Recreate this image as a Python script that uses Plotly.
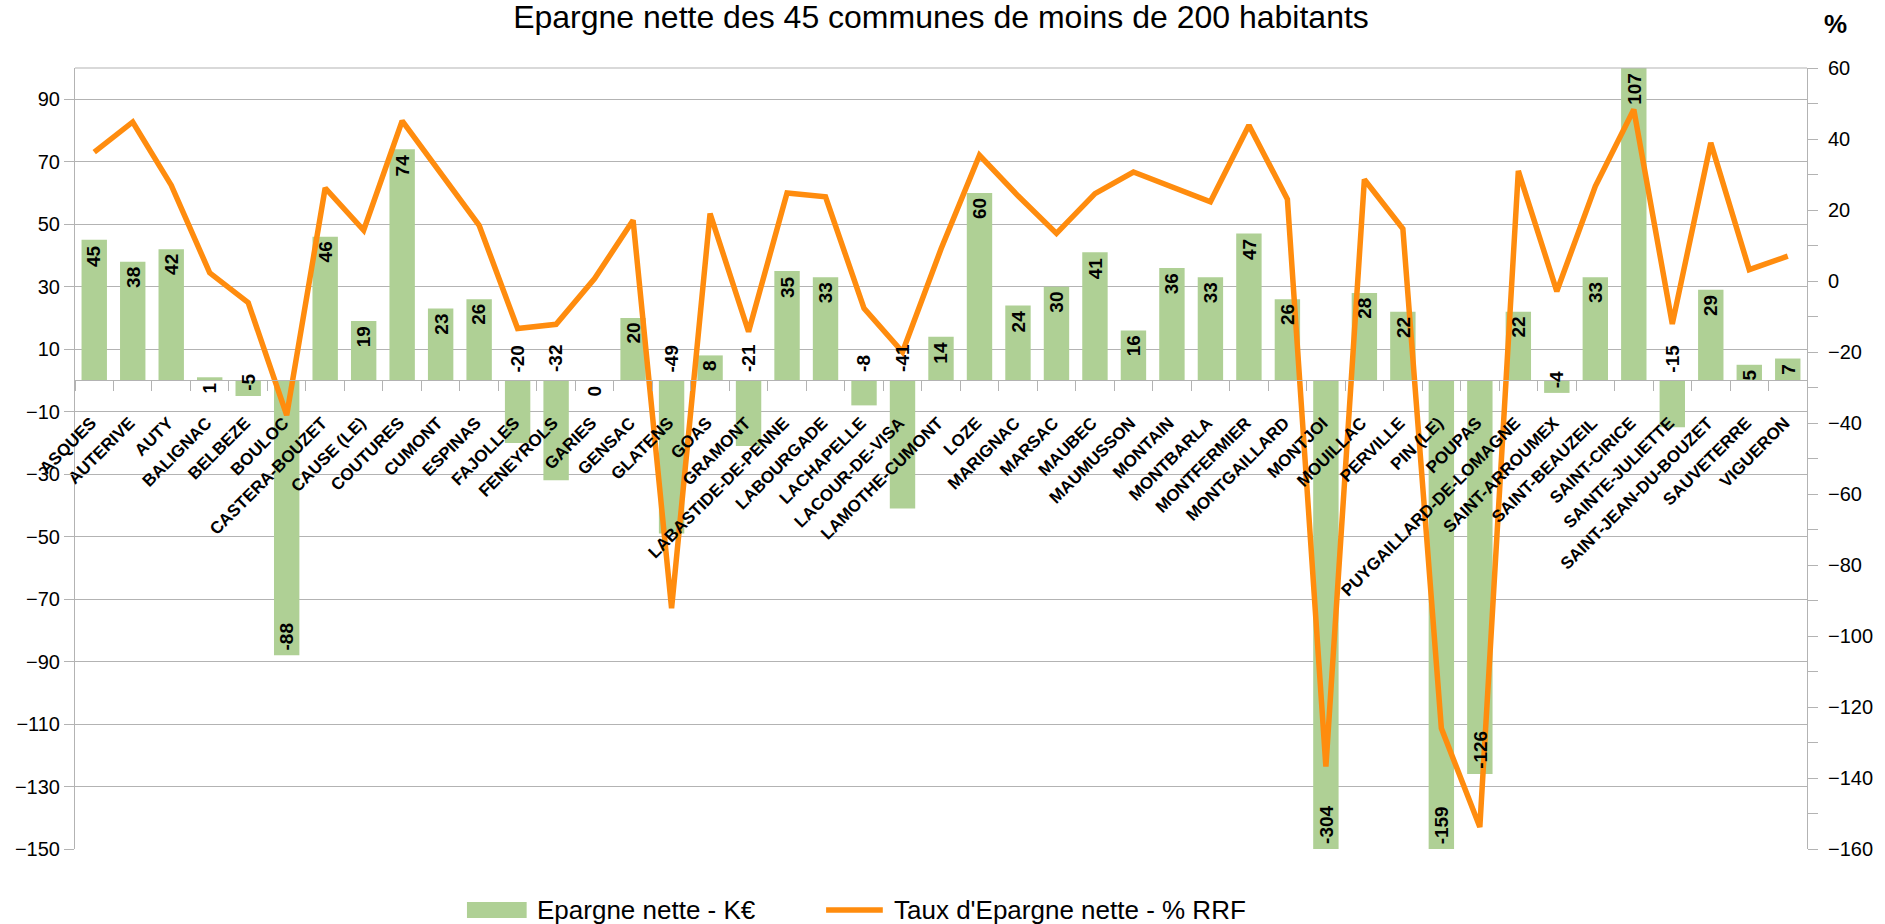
import plotly.graph_objects as go

communes = ["ASQUES", "AUTERIVE", "AUTY", "BALIGNAC", "BELBEZE", "BOULOC", "CASTERA-BOUZET",
            "CAUSE (LE)", "COUTURES", "CUMONT", "ESPINAS", "FAJOLLES", "FENEYROLS", "GARIES",
            "GENSAC", "GLATENS", "GOAS", "GRAMONT", "LABASTIDE-DE-PENNE", "LABOURGADE",
            "LACHAPELLE", "LACOUR-DE-VISA", "LAMOTHE-CUMONT", "LOZE", "MARIGNAC", "MARSAC",
            "MAUBEC", "MAUMUSSON", "MONTAIN", "MONTBARLA", "MONTFERMIER", "MONTGAILLARD",
            "MONTJOI", "MOUILLAC", "PERVILLE", "PIN (LE)", "POUPAS", "PUYGAILLARD-DE-LOMAGNE",
            "SAINT-ARROUMEX", "SAINT-BEAUZEIL", "SAINT-CIRICE", "SAINTE-JULIETTE",
            "SAINT-JEAN-DU-BOUZET", "SAUVETERRE", "VIGUERON"]

epargne_nette_keur = [45, 38, 42, 1, -5, -88, 46, 19, 74, 23, 26, -20, -32, 0, 20, -49, 8, -21,
                      35, 33, -8, -41, 14, 60, 24, 30, 41, 16, 36, 33, 47, 26, -304, 28, 22,
                      -159, -126, 22, -4, 33, 107, -15, 29, 5, 7]

taux_epargne_pct = [36.3, 44.8, 27.0, 2.3, -6.1, -37.8, 26.2, 14.3, 45.1, 30.4, 15.7, -13.4,
                    -12.2, 0.7, 17.1, -92.2, 19.0, -14.3, 24.8, 23.7, -7.7, -20.0, 9.0, 35.4,
                    24.0, 13.4, 24.6, 30.7, 26.5, 22.3, 43.9, 23.0, -136.8, 28.6, 14.7, -126.0,
                    -153.8, 31.0, -2.9, 26.7, 48.3, -12.1, 38.9, 3.2, 7.0]

left_ticks = [-150, -130, -110, -90, -70, -50, -30, -10, 10, 30, 50, 70, 90]
right_ticks = [-160, -140, -120, -100, -80, -60, -40, -20, 0, 20, 40, 60]

title_text = "Epargne nette des 45 communes de moins de 200 habitants"
legend_bar = "Epargne nette - K€"
legend_line = "Taux d'Epargne nette - % RRF"

FONT = "Liberation Sans, Arial, sans-serif"
GREEN = "#afd095"
ORANGE = "#ff8c0e"
GRID = "#b3b3b3"

W, H = 1885, 924
ML, MR, MT, MB = 75, 69, 68, 75
PW = W - ML - MR
PH = H - MT - MB
Y_MIN, Y_MAX = -150, 100


def px_x(px):
    return (px - ML) / PW


def px_y(py):
    return (H - MB - py) / PH


fig = go.Figure()

fig.add_trace(go.Bar(
    x=communes, y=epargne_nette_keur, name=legend_bar,
    marker=dict(color=GREEN, line=dict(width=0)),
    yaxis="y", xaxis="x", showlegend=False,
))

fig.add_trace(go.Scatter(
    x=communes, y=taux_epargne_pct, name=legend_line, mode="lines",
    line=dict(color=ORANGE, width=5.5),
    yaxis="y2", xaxis="x", showlegend=False,
))

# data labels on bars
annotations = []
for c, v in zip(communes, epargne_nette_keur):
    if v >= 0:
        yv, ya, ys = min(v, Y_MAX), "top", -3
    elif -60 < v < -6:
        yv, ya, ys = 0, "bottom", 6
    else:
        yv, ya, ys = max(v, Y_MIN), "bottom", 3
    annotations.append(dict(
        x=c, y=yv, xref="x", yref="y", text=str(v), textangle=-90,
        showarrow=False, yanchor=ya, xanchor="center", yshift=ys,
        font=dict(family=FONT, size=19, color="black", weight="bold"),
    ))

# "%" unit label of right axis
annotations.append(dict(
    x=px_x(1845), y=px_y(24), xref="paper", yref="paper", text="<b>%</b>",
    showarrow=False, xanchor="center", yanchor="middle",
    font=dict(family=FONT, size=26, color="black"),
))

# custom legend
annotations.append(dict(
    x=px_x(537), y=px_y(910), xref="paper", yref="paper", text=legend_bar,
    showarrow=False, xanchor="left", yanchor="middle",
    font=dict(family=FONT, size=26, color="black"),
))
annotations.append(dict(
    x=px_x(896), y=px_y(910), xref="paper", yref="paper", text=legend_line,
    showarrow=False, xanchor="left", yanchor="middle",
    font=dict(family=FONT, size=26, color="black"),
))

shapes = [
    # top border of plot area
    dict(type="line", xref="paper", yref="paper", x0=0, x1=1, y0=1, y1=1,
         line=dict(color=GRID, width=1)),
    # legend swatches
    dict(type="rect", xref="paper", yref="paper", x0=px_x(469), x1=px_x(529),
         y0=px_y(918), y1=px_y(902), fillcolor=GREEN, line=dict(width=0)),
    dict(type="line", xref="paper", yref="paper", x0=px_x(830), x1=px_x(887),
         y0=px_y(910), y1=px_y(910), line=dict(color=ORANGE, width=5.5)),
]

zero_pos = (0 - Y_MIN) / (Y_MAX - Y_MIN)

fig.update_layout(
    width=W, height=H,
    margin=dict(l=ML, r=MR, t=MT, b=MB, pad=0),
    paper_bgcolor="white", plot_bgcolor="white",
    bargap=0.34,
    showlegend=False,
    font=dict(family=FONT, size=20, color="black"),
    title=dict(text=title_text, x=0.5, xanchor="center", xref="paper",
               y=1 - 17 / H, yanchor="middle", yref="container",
               font=dict(family=FONT, size=32, color="black")),
    xaxis=dict(
        type="category", categoryorder="array", categoryarray=communes,
        range=[-0.5, len(communes) - 0.5],
        anchor="free", position=zero_pos,
        tickmode="array", tickvals=communes, ticktext=communes,
        tickangle=-45, tickson="boundaries", ticks="outside", ticklen=10,
        ticklabelstandoff=25, ticklabelshift=-3,
        tickcolor=GRID, showline=True, linecolor=GRID, linewidth=1,
        showgrid=False, zeroline=False,
        tickfont=dict(family=FONT, size=17, color="black", weight="bold"),
    ),
    yaxis=dict(
        range=[Y_MIN, Y_MAX], tickmode="array", tickvals=left_ticks,
        ticks="outside", ticklen=10, tickcolor=GRID,
        showline=True, linecolor=GRID, linewidth=1,
        showgrid=True, gridcolor=GRID, gridwidth=1, zeroline=False,
        tickfont=dict(family=FONT, size=20, color="black"),
    ),
    yaxis2=dict(
        range=[-160, 60], overlaying="y", side="right", anchor="x",
        tickmode="array", tickvals=right_ticks,
        ticks="outside", ticklen=10, tickcolor=GRID, ticklabelstandoff=6,
        minor=dict(dtick=10, tick0=0, ticks="outside", ticklen=10, tickcolor=GRID, showgrid=False),
        showline=True, linecolor=GRID, linewidth=1,
        showgrid=False, zeroline=False,
        tickfont=dict(family=FONT, size=20, color="black"),
    ),
    annotations=annotations,
    shapes=shapes,
)

fig.write_html("out.html", config={"displayModeBar": False},
               post_script="document.body.style.margin='0';")
